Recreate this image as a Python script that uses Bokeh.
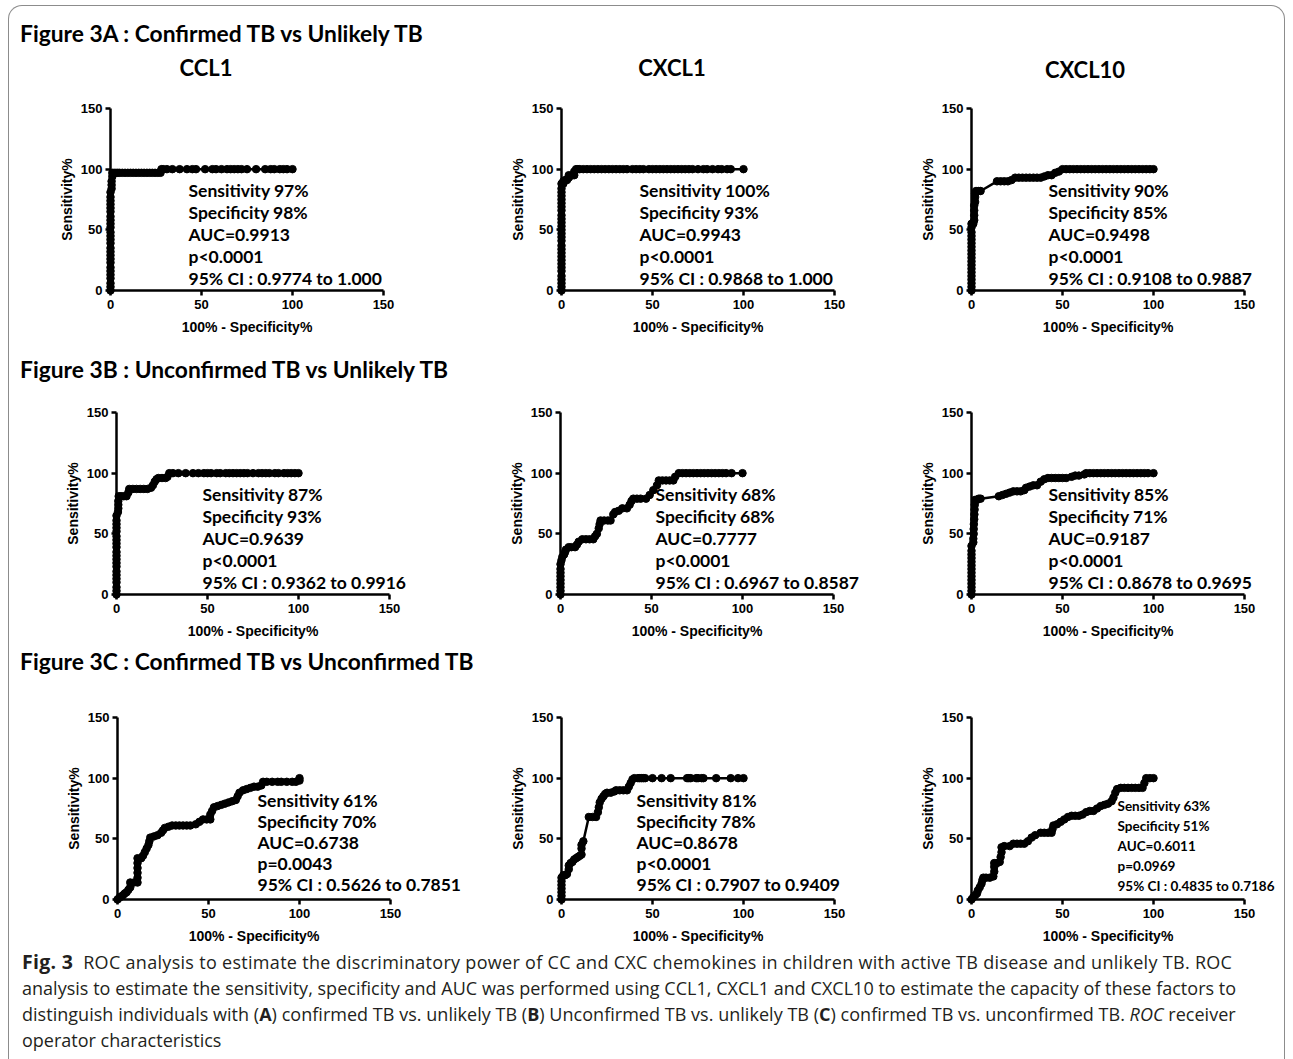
from bokeh.plotting import figure
from bokeh.models import Range1d, Div, Label, FixedTicker
from bokeh.layouts import column, row
from bokeh.embed import file_html
from bokeh.resources import INLINE

# ---------------- data (x = 100% - Specificity%, y = Sensitivity%) ----------------
a1_x = [0]*26 + [0.6, 0.6, 0.6, 1, 1, 2, 3, 4, 5, 6.5, 8, 9.5, 11, 12.5, 14, 15.5, 17, 18.5, 20, 21.5, 23, 24.5, 26, 27.5,
                 28, 29, 31, 34, 38, 42, 45, 47, 52, 56, 58, 61, 64, 66, 68, 70, 72, 75, 80, 85, 88, 90, 93, 95, 97, 100]
a1_y = [0, 3, 6, 10, 13, 16, 19, 23, 26, 29, 32, 35, 39, 42, 45, 48, 52, 55, 58, 61, 65, 68, 71, 74, 77, 81,
        84, 87, 90, 94, 97] + [97]*19 + [100]*26

a2_x = [0]*29 + [1, 1, 2, 3, 4, 4, 6, 7, 7, 8,
                 9, 10, 12, 14, 16, 18, 20, 22, 24, 26, 28, 30, 32, 34, 36, 39, 41, 43, 45, 48, 50, 52, 54, 56, 58,
                 60, 62, 64, 66, 68, 70, 72, 75, 78, 80, 83, 86, 88, 91, 93, 100]
a2_y = [0, 3, 6, 9, 12, 16, 19, 22, 25, 28, 31, 34, 37, 41, 44, 47, 50, 53, 56, 59, 62, 66, 69, 72, 75, 78, 81, 84, 88,
        88, 90, 91, 91, 93, 95, 95, 95, 98, 100] + [100]*41

a3_x = [0]*19 + [1, 1.5, 1.5, 1.5, 1.5, 2, 2, 2, 2.5, 4, 5, 14, 16, 18, 20, 22, 24, 26, 28, 30, 32, 34, 36, 38, 40, 42,
                 44, 46, 48, 50, 52, 54, 56, 58, 60, 62, 64, 66, 68, 70, 72, 74, 76, 78, 80, 82, 84, 86, 88, 90, 92,
                 94, 96, 98, 100]
a3_y = [0, 3, 6, 9, 12, 15, 18, 21, 24, 27, 30, 33, 36, 39, 42, 45, 48, 52, 55,
        55, 58, 62, 66, 70, 73, 77, 80, 82, 82, 82, 90, 90, 90, 90, 91, 93, 93, 93, 93, 93, 93, 93, 93, 94, 95,
        95, 97, 98, 100] + [100]*25

b1_x = [0]*21 + [0.8, 1, 1, 1, 1.2, 2.5, 4, 5.5, 6.5, 7, 9, 11, 13, 15, 17, 19, 20, 21, 22, 23, 25, 27, 28, 29,
                 31, 34, 38, 42, 45, 48, 50, 52, 55, 57, 60, 62, 64, 66, 68, 70, 72, 75, 78, 80, 82, 84, 87, 89, 92,
                 94, 96, 98, 100]
b1_y = [0, 3, 6, 10, 13, 16, 19, 23, 26, 29, 32, 35, 39, 42, 45, 48, 52, 55, 58, 61, 65,
        68, 71, 74, 77, 81, 81, 81, 81, 84, 87, 87, 87, 87, 87, 87, 88, 90, 93, 95, 96, 96, 96, 97, 100] + [100]*29

b2_x = [0]*9 + [0.5, 1, 2, 2.5, 3, 4.5, 6, 8, 9, 10, 12, 14, 16, 18, 19, 20, 21, 21.5, 22, 24, 26, 27.5, 29, 30, 32,
                34, 36.5, 38, 39, 40, 42, 44, 47, 49, 51, 53, 54, 56, 58, 60, 62, 63, 65,
                67, 69, 71, 73, 75, 77, 79, 81, 83, 85, 87, 89, 91, 94, 100]
b2_y = [0, 3, 6, 9, 12, 15, 18, 21, 25,
        28, 31, 33, 35, 37, 39, 39, 39, 41, 43.5, 45.5, 45.5, 45.5, 45.5, 48, 50, 54.5, 58, 61, 61, 61, 61, 66, 68, 69,
        71, 71, 74, 77, 79, 79, 79, 79, 82, 86, 90, 94, 94, 94, 94, 94, 97, 100] + [100]*15

b3_x = [0]*14 + [1, 1, 1.2, 1.2, 1.3, 1.5, 1.6, 1.7, 1.8, 2, 3, 4, 5, 15, 17, 19, 21, 23, 25, 27, 29, 30, 32, 34, 36,
                 38, 40, 42, 44, 46, 48, 50, 52, 55, 57, 59, 62, 63,
                 65, 67, 69, 71, 73, 75, 77, 79, 81, 83, 85, 87, 89, 91, 93, 95, 97, 100]
b3_y = [0, 3, 6, 9, 12, 15, 18, 21, 24, 27, 30, 33, 36, 40,
        43, 46, 50, 54, 58, 62, 66, 70, 74, 78, 78, 79, 79, 81, 82, 83, 84, 85, 85, 85, 86, 88, 89, 90, 90,
        93, 95, 96, 96, 96, 96, 96, 96, 97, 98, 98, 99, 100] + [100]*18

c1_x = [0, 1, 2, 3, 4, 5, 6, 7, 7, 9, 11, 11, 11, 11, 11, 11, 13, 14, 15, 16, 17, 17.5, 18, 20, 22, 24, 25, 26, 28,
        30, 32, 34, 36, 38, 40, 43, 45, 47, 49, 51, 51, 52, 53, 55, 57, 59, 61, 63, 65, 66, 67, 69, 71, 73, 75, 77,
        79, 80, 82, 85, 88, 90, 93, 96, 98, 100, 100]
c1_y = [0, 1.5, 2.5, 3.5, 5, 6, 8, 10, 14, 14, 14, 18, 22, 26, 30, 34, 34, 36, 39, 42, 45, 48, 51, 52, 53, 55, 57,
        59, 60, 61, 61, 61, 61, 61, 61, 62, 64, 66, 66, 66, 70, 73, 76, 77, 78, 79, 80, 81, 82, 85, 88, 90, 91, 92,
        93, 93, 94, 97, 97, 97, 97, 97, 97, 97, 97, 98, 100]

c2_x = [0]*7 + [1, 2, 3, 4, 4, 5, 6, 7, 8, 9, 10, 11, 11, 11, 12, 15, 17, 19, 20, 20.5, 21, 22, 23, 24, 25, 27, 29,
                30, 32, 34, 36, 37, 38, 39, 40, 42, 43, 44, 45, 46, 50, 55, 60, 69, 70, 71, 74, 75, 77, 78, 85, 93,
                97, 100]
c2_y = [0, 3, 6, 9, 12, 15, 18,
        20, 20, 21, 25, 28, 30, 31, 33, 34, 35, 36, 37, 42, 45, 48, 68, 68, 68, 72, 76, 80, 83, 85, 87, 88, 88, 89,
        90, 90, 90, 90, 93, 96, 99] + [100]*21

c3_x = [0, 1, 2, 3, 3.5, 4.5, 5.5, 6, 6.5, 8, 10, 12, 12.5, 12.5, 12.5, 14, 15.5, 16, 16.5, 16.5, 18, 21, 23, 25,
        27, 29, 31, 33, 35, 38, 40, 42, 44, 44.5, 45, 47, 49, 51, 53, 55, 57, 59, 61, 63, 65, 67, 69, 71, 73, 75,
        77, 78, 79, 80, 82, 84, 86, 88, 90, 92, 94, 95, 96, 98, 100]
c3_y = [0, 2, 3.5, 5, 7.5, 10, 13, 16, 18, 18, 18, 19, 23, 27, 30, 30, 31, 35, 39, 43, 44, 44, 46, 46, 46, 46, 48,
        51, 53, 55, 55, 55, 55, 58, 61, 62, 64, 66, 68, 69, 69, 69, 70, 72, 73, 73, 75, 77, 78, 79, 81, 84, 88, 91,
        92, 92, 92, 92, 92, 92, 92, 96, 100, 100, 100]

chemokines = ["CCL1", "CXCL1", "CXCL10"]
row_titles = ["Figure 3A : Confirmed TB vs Unlikely TB",
              "Figure 3B : Unconfirmed TB vs Unlikely TB",
              "Figure 3C : Confirmed TB vs Unconfirmed TB"]

stats = {
    "a1": ["Sensitivity 97%", "Specificity 98%", "AUC=0.9913", "p<0.0001", "95% CI : 0.9774 to 1.000"],
    "a2": ["Sensitivity 100%", "Specificity 93%", "AUC=0.9943", "p<0.0001", "95% CI : 0.9868 to 1.000"],
    "a3": ["Sensitivity 90%", "Specificity 85%", "AUC=0.9498", "p<0.0001", "95% CI : 0.9108 to 0.9887"],
    "b1": ["Sensitivity 87%", "Specificity 93%", "AUC=0.9639", "p<0.0001", "95% CI : 0.9362 to 0.9916"],
    "b2": ["Sensitivity 68%", "Specificity 68%", "AUC=0.7777", "p<0.0001", "95% CI : 0.6967 to 0.8587"],
    "b3": ["Sensitivity 85%", "Specificity 71%", "AUC=0.9187", "p<0.0001", "95% CI : 0.8678 to 0.9695"],
    "c1": ["Sensitivity 61%", "Specificity 70%", "AUC=0.6738", "p=0.0043", "95% CI : 0.5626 to 0.7851"],
    "c2": ["Sensitivity 81%", "Specificity 78%", "AUC=0.8678", "p<0.0001", "95% CI : 0.7907 to 0.9409"],
    "c3": ["Sensitivity 63%", "Specificity 51%", "AUC=0.6011", "p=0.0969", "95% CI : 0.4835 to 0.7186"],
}
ticks = [0, 50, 100, 150]

caption_lines = [
    "<b style='font-size:19.5px'>Fig.&nbsp;3</b>&nbsp; ROC analysis to estimate the discriminatory power of CC and CXC chemokines in children with active TB disease and unlikely TB. ROC",
    "analysis to estimate the sensitivity, specificity and AUC was performed using CCL1, CXCL1 and CXCL10 to estimate the capacity of these factors to",
    "distinguish individuals with (<b>A</b>) confirmed TB vs. unlikely TB (<b>B</b>) Unconfirmed TB vs. unlikely TB (<b>C</b>) confirmed TB vs. unconfirmed TB. <i>ROC</i> receiver",
    "operator characteristics",
]
caption_spacing = [0.3, 0.02, 0.03, 0.0]

# ---------------- geometry (page pixels) ----------------
OX, OY = 9, 6
SX = 273 / 150
SY = 182 / 150
FIG_EDGES = [9, 495, 905, 1284]
FONT = "Lato"
AXFONT = "Liberation Sans"


def make_panel(xs, ys, lines, tx, ty, fs, gap, k, x0, fig_t, fig_b, y0):
    fig_l, fig_r = FIG_EDGES[k], FIG_EDGES[k + 1]
    p = figure(frame_width=fig_r - fig_l, frame_height=fig_b - fig_t, title=None,
               x_range=Range1d((fig_l - x0) / SX, (fig_r - x0) / SX),
               y_range=Range1d((y0 - fig_b) / SY, (y0 - fig_t) / SY),
               min_border=0, output_backend="svg", toolbar_location=None, tools="")
    p.outline_line_color = None
    p.grid.visible = False
    p.background_fill_color = "white"
    p.border_fill_color = "white"
    for ax in (p.xaxis[0], p.yaxis[0]):
        ax.fixed_location = 0
        ax.bounds = (0, 150)
        ax.ticker = FixedTicker(ticks=ticks)
        ax.axis_line_width = 2.5
        ax.axis_line_color = "black"
        ax.major_tick_line_width = 2.5
        ax.major_tick_line_color = "black"
        ax.major_tick_out = 5
        ax.major_tick_in = 0
        ax.minor_tick_line_color = None
        ax.major_label_text_font = AXFONT
        ax.major_label_text_font_style = "bold"
        ax.major_label_text_font_size = "13px"
        ax.major_label_text_color = "black"
        ax.axis_label_text_font = AXFONT
        ax.axis_label_text_font_style = "bold"
        ax.axis_label_text_font_size = "14px"
        ax.axis_label_text_color = "black"
    p.xaxis[0].axis_label = "100% - Specificity%"
    p.yaxis[0].axis_label = "Sensitivity%"
    p.xaxis[0].major_label_standoff = 4
    p.xaxis[0].axis_label_standoff = 7
    p.yaxis[0].major_label_standoff = 3
    p.yaxis[0].axis_label_standoff = 3
    p.line(xs, ys, line_color="black", line_width=2.5)
    p.scatter(xs, ys, size=7.5, fill_color="black", line_color="black")
    for i, t in enumerate(lines):
        p.add_layout(Label(x=(tx - x0) / SX, y=(y0 - (ty + i * gap)) / SY, text=t,
                           text_font=FONT, text_font_style="bold", text_font_size=fs,
                           text_baseline="middle", text_align="left", text_color="black"))
    return p


def abs_text(html, left, top, size, lh, weight="bold", width=None, align="left", font=FONT,
             color="black", spacing=0.0):
    w = f"width:{width}px;" if width else ""
    return (f"<div style='position:absolute;left:{left}px;top:{top}px;{w}text-align:{align};"
            f"font-family:\"{font}\";font-size:{size}px;line-height:{lh}px;font-weight:{weight};"
            f"letter-spacing:{spacing}px;color:{color};white-space:nowrap'>{html}</div>")


def make_div(inner, height):
    return Div(text=f"<div style='position:relative;width:1275px;height:{height}px'>{inner}</div>",
               width=1275, height=height, margin=(0, 0, 0, 0))


# headers
hdrA_top, hdrA_h = 6, 80
inner = abs_text(row_titles[0], 20 - OX, 33 - 14 - hdrA_top, 22.8, 28)
for name, cx, cy in zip(chemokines, [206, 672, 1085], [68, 68, 70]):
    inner += abs_text(name, cx - 100 - OX, cy - 15 - hdrA_top, 22, 30, width=200, align="center")
hdrA = make_div(inner, hdrA_h)

hdrB_top, hdrB_h = 345, 45
hdrB = make_div(abs_text(row_titles[1], 20 - OX, 369 - 14 - hdrB_top, 22.8, 28), hdrB_h)
hdrC_top, hdrC_h = 650, 45
hdrC = make_div(abs_text(row_titles[2], 20 - OX, 661 - 11 - hdrC_top, 22.8, 22), hdrC_h)

cap_top, cap_h = 950, 109
cap_inner = ""
for i, ln in enumerate(caption_lines):
    cap_inner += abs_text(ln, 22 - OX, 962 - 13 + 26 * i - cap_top, 18, 26, weight="normal",
                          font="Open Sans", color="#231f20", spacing=caption_spacing[i])
caption = make_div(cap_inner, cap_h)

# panels
FS = "17.5px"
rowA = row(
    make_panel(a1_x, a1_y, stats["a1"], 188, 190, FS, 22, 0, 110, 86, 345, 290),
    make_panel(a2_x, a2_y, stats["a2"], 639, 190, FS, 22, 1, 561, 86, 345, 290),
    make_panel(a3_x, a3_y, stats["a3"], 1048, 190, FS, 22, 2, 971, 86, 345, 290),
    spacing=0)
rowB = row(
    make_panel(b1_x, b1_y, stats["b1"], 202, 494, FS, 22, 0, 116, 390, 650, 594),
    make_panel(b2_x, b2_y, stats["b2"], 655, 494, FS, 22, 1, 560, 390, 650, 594),
    make_panel(b3_x, b3_y, stats["b3"], 1048, 494, FS, 22, 2, 971, 390, 650, 594),
    spacing=0)
rowC = row(
    make_panel(c1_x, c1_y, stats["c1"], 257, 800, FS, 21, 0, 117, 695, 950, 899),
    make_panel(c2_x, c2_y, stats["c2"], 636, 800, FS, 21, 1, 561, 695, 950, 899),
    make_panel(c3_x, c3_y, stats["c3"], 1117, 805, "13.5px", 20, 2, 971, 695, 950, 899),
    spacing=0)

page = column(hdrA, rowA, hdrB, rowB, hdrC, rowC, caption, spacing=0,
              margin=(5, 0, 0, 8),
              styles={"border": "1px solid #8c8c8c", "border-bottom": "none",
                      "border-radius": "14px 14px 0 0", "background": "white"})

with open("out.html", "w") as f:
    f.write(file_html(page, INLINE))
